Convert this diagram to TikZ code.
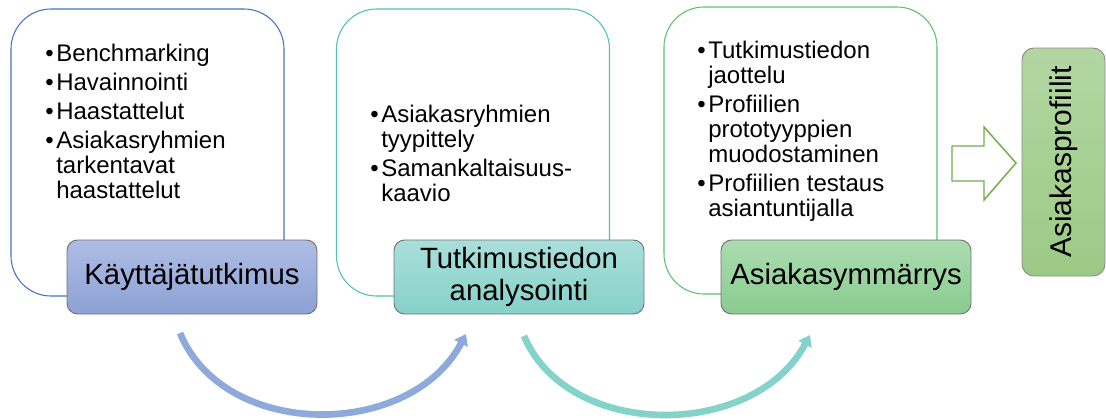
\documentclass[tikz,border=0pt]{standalone}
\usepackage{fontspec}
\setmainfont{Liberation Sans}
\usetikzlibrary{arrows.meta}

\definecolor{blueedge}{HTML}{4472C4}
\definecolor{tealedge}{HTML}{4FC1B8}
\definecolor{greenedge}{HTML}{5EC16C}
\definecolor{bluetop}{HTML}{AEBDE3}
\definecolor{bluebot}{HTML}{8CA1D5}
\definecolor{tealtop}{HTML}{AADFDA}
\definecolor{tealbot}{HTML}{85D1C9}
\definecolor{greentop}{HTML}{ABDCB1}
\definecolor{greenbot}{HTML}{8ACB8F}
\definecolor{proftop}{HTML}{B3D6A2}
\definecolor{profbot}{HTML}{9BCA85}
\definecolor{arrowgreen}{HTML}{70AD47}
\definecolor{arcblue}{HTML}{8EAADB}
\definecolor{arcteal}{HTML}{84D3CB}

\newcommand{\bul}{\makebox[8.25pt][l]{•}}
\newcommand{\ind}{\hspace*{8.25pt}}

\tikzset{
  phase/.style={draw=#1, line width=0.8pt, rounded corners=30pt, fill=white,
    minimum width=204.75pt, minimum height=215.25pt, inner sep=0pt},
  % lists are placed by the baseline of their last line
  items/.style={anchor=base west, align=left, inner sep=0pt,
    font=\fontsize{18}{18.75}\selectfont},
  stage/.style={draw=black!55, line width=0.7pt, rounded corners=8pt,
    minimum width=187.5pt, minimum height=55.5pt, inner sep=0pt, align=center,
    font=\fontsize{22}{24}\selectfont},
  flow/.style={line width=5pt, -{Triangle[width=11pt,length=8pt]}},
}

\begin{document}
\begin{tikzpicture}[x=0.75pt, y=-0.75pt]
\useasboundingbox (0,0) rectangle (1106,418);

% three phase frames
\node[phase=blueedge]  (f1) at (147.5,152.5) {};
\node[phase=tealedge]  (f2) at (473,152.5) {};
\node[phase=greenedge] (f3) at (800.5,150.5) {};

% activity lists
\node[items] (l1) at (45,198) {\bul Benchmarking\\[3pt]
  \bul Havainnointi\\[3pt]
  \bul Haastattelut\\[3pt]
  \bul Asiakasryhmien\\
  \ind tarkentavat\\
  \ind haastattelut};
\node[items] (l2) at (370,201) {\bul Asiakasryhmien\\
  \ind tyypittely\\[3pt]
  \bul Samankaltaisuus-\\
  \ind kaavio};
\node[items] (l3) at (697,216) {\bul Tutkimustiedon\\
  \ind jaottelu\\[3pt]
  \bul Profiilien\\
  \ind prototyyppien\\
  \ind muodostaminen\\[3pt]
  \bul Profiilien testaus\\
  \ind asiantuntijalla};

% stage titles
\node[stage, top color=bluetop, bottom color=bluebot] (s1) at (192,277) {Käyttäjätutkimus};
\node[stage, top color=tealtop, bottom color=tealbot] (s2) at (519,277) {Tutkimustiedon\\analysointi};
\node[stage, top color=greentop, bottom color=greenbot] (s3) at (846,277) {Asiakasymmärrys};

% result
\node[draw=black!45, line width=0.7pt, rounded corners=9pt, top color=proftop, bottom color=profbot,
  minimum width=62.25pt, minimum height=171pt, inner sep=0pt,
  font=\fontsize{22.5}{24}\selectfont] (res) at (1063.5,162) {\rotatebox{90}{Asiakasprofiilit}};

% block arrow towards the result
\draw[arrowgreen, line width=1.1pt, fill=white, line join=miter]
  (952,146) -- (984,146) -- (984,127) -- (1016,163) -- (984,200) -- (984,181) -- (952,181) -- cycle;

% curved transitions between stages
\coordinate (a1s) at (180,333);
\coordinate (a1e) at (466,334);
\coordinate (a2s) at (524,336);
\coordinate (a2e) at (810,335);
\draw[flow, arcblue] (a1s) .. controls (224,440) and (410,440) .. (a1e);
\draw[flow, arcteal] (a2s) .. controls (568,440) and (754,440) .. (a2e);
\end{tikzpicture}
\end{document}
